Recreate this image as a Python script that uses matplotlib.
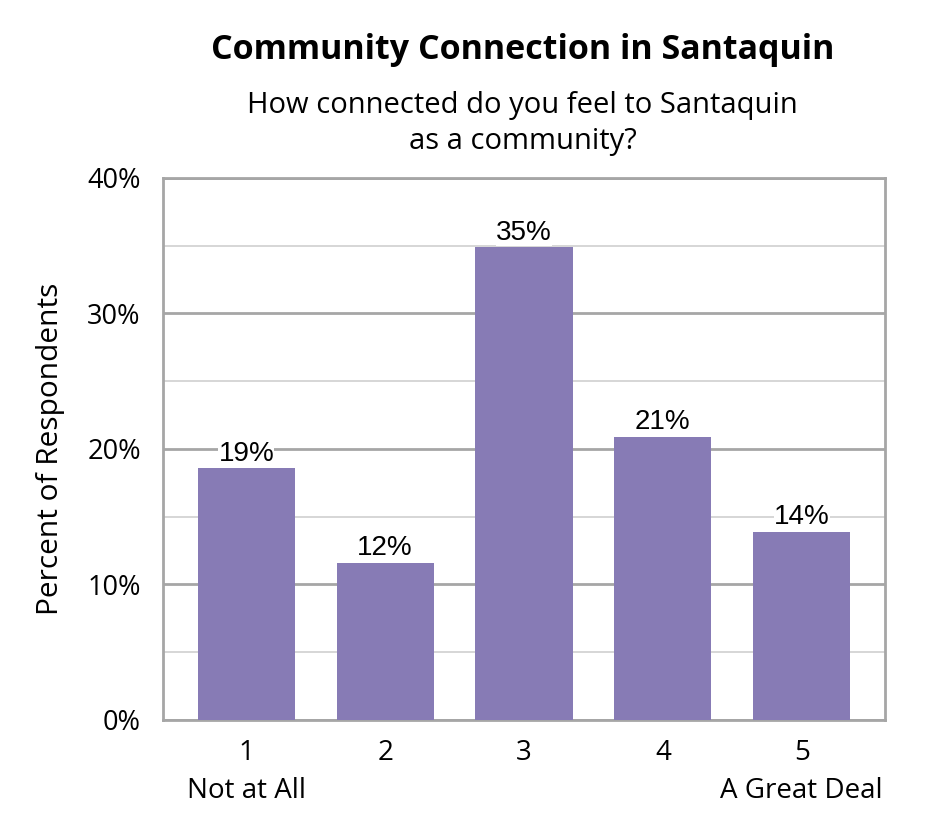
import matplotlib
matplotlib.use("Agg")
import matplotlib.pyplot as plt
from matplotlib.ticker import MultipleLocator

plt.rcParams["font.family"] = ["Open Sans", "DejaVu Sans"]

categories = ["1\nNot at All", "2", "3", "4", "5\nA Great Deal"]
values = [18.6, 11.6, 34.9, 20.9, 13.9]
value_labels = ["19%", "12%", "35%", "21%", "14%"]
y_ticks = [0, 10, 20, 30, 40]

title = "Community Connection in Santaquin"
subtitle = "How connected do you feel to Santaquin\nas a community?"
ylabel = "Percent of Respondents"

bar_color = "#877BB5"
major_col = "#A6A6A6"
minor_col = "#CFCFCF"

fig = plt.figure(figsize=(9.45, 8.4), dpi=100)
ax = fig.add_axes([0.1725, 0.1429, 0.7640, 0.6452])

x = list(range(len(categories)))
bars = ax.bar(x, values, width=0.70, color=bar_color, zorder=3)
ax.set_xlim(-0.6, len(categories) - 0.4)
ax.set_ylim(0, 40)

ax.set_yticks(y_ticks)
ax.set_yticklabels([f"{t}%" for t in y_ticks], fontsize=19.5, fontfamily="Open Sans")
ax.yaxis.set_minor_locator(MultipleLocator(5))
ax.grid(axis="y", which="major", color=major_col, linewidth=2.0, zorder=0)
ax.grid(axis="y", which="minor", color=minor_col, linewidth=1.2, zorder=0)
for s in ax.spines.values():
    s.set_color(major_col)
    s.set_linewidth(2.0)

ax.tick_params(axis="both", which="both", length=0)
ax.tick_params(axis="y", pad=16)
ax.set_xticks(x)
ax.set_xticklabels(categories, fontsize=20, fontfamily="Open Sans", linespacing=1.45)
ax.tick_params(axis="x", pad=14)

for xi, v, lab in zip(x, values, value_labels):
    ax.text(xi, v + 0.1, lab, ha="center", va="bottom", fontsize=20,
            fontfamily="Liberation Sans", zorder=4,
            bbox=dict(facecolor="white", edgecolor="none", pad=0.3))

ax.set_ylabel(ylabel, fontsize=21.5, fontfamily="Open Sans", labelpad=16)

fig.text(0.553, 0.941, title, ha="center", va="center", fontsize=24.5,
         fontweight="bold", fontfamily="Open Sans")
fig.text(0.553, 0.853, subtitle, ha="center", va="center", fontsize=21,
         fontfamily="Open Sans", linespacing=1.3)

fig.savefig("out.png", dpi=100, facecolor="white")
